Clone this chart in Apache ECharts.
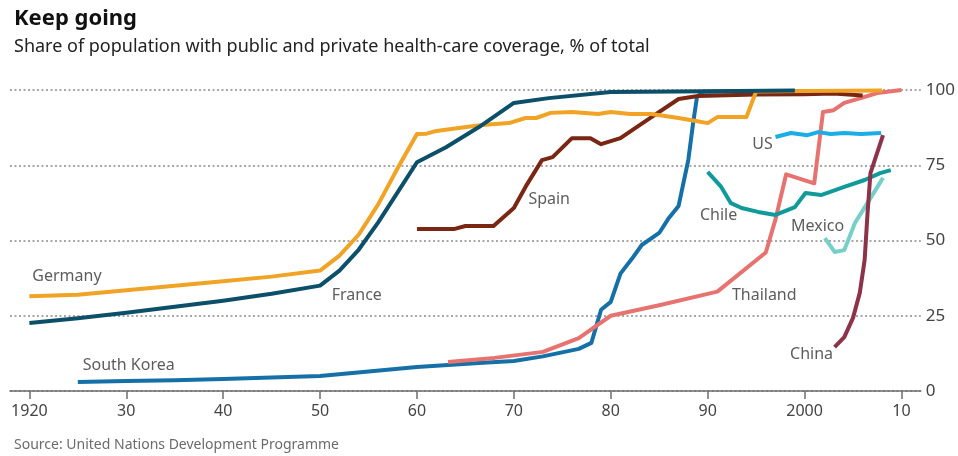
<!DOCTYPE html>
<html>
<head>
<meta charset="utf-8">
<script src="https://cdn.jsdelivr.net/npm/echarts@6/dist/echarts.min.js"></script>
<style>
html,body{margin:0;padding:0;background:#fff;}
#chart{width:958px;height:456px;}
</style>
</head>
<body>
<div id="chart"></div>
<script>
// Tick labels
var tickYears = [1920,1930,1940,1950,1960,1970,1980,1990,2000,2010];
var tickLabels = ['1920','30','40','50','60','70','80','90','2000','10'];
var yTicks = [0,25,50,75,100];

// Series values: [year, % of population covered]
var germany = [[1920,31.5],[1925,32],[1930,33.5],[1935,35],[1940,36.5],[1945,38],[1950,40],[1952,45],[1954,52],[1956,62],[1958,74],[1960,85.4],[1961,85.5],[1962,86.4],[1964.3,87.4],[1966.7,88.4],[1969.5,89],[1971.2,90.7],[1972.3,90.7],[1973.8,92.4],[1976,92.7],[1978.7,92],[1980,92.7],[1982,92],[1984.2,92],[1987,90.7],[1988.8,89.7],[1990,89],[1991,91],[1992.4,91],[1994,91],[1995,99.5],[2000,99.7],[2008,99.8]];
var france = [[1920,22.6],[1925,24.2],[1930,26],[1935,28],[1940,30],[1945,32.3],[1950,35],[1952,40],[1954,47],[1956,56],[1958,66],[1960,76],[1963,81],[1966.4,87.7],[1970,95.7],[1973.6,97.3],[1980,99.3],[1990,99.6],[1999,99.8]];
var spain = [[1960,53.8],[1963.8,53.8],[1965,54.8],[1967.9,54.8],[1970,60.8],[1971.2,67.8],[1972.9,76.7],[1974,77.7],[1976,84],[1977.9,84],[1979,82],[1981,84],[1984.2,91],[1987,97],[1989,98],[1995,98.5],[2000,98.6],[2003,98.8],[2006,98.2]];
var southKorea = [[1925,3],[1930,3.3],[1935,3.6],[1940,4],[1945,4.5],[1950,5],[1955,6.5],[1960,8],[1966.4,9.3],[1970,10],[1973,11.5],[1976.7,14],[1978,16],[1979,27],[1980,29.6],[1981,39],[1982.2,44],[1983.2,48.5],[1985,52.5],[1986,57.5],[1987,61.5],[1988,76.7],[1988.5,89],[1988.9,97.7],[1989.5,99.4],[2000,99.7]];
var thailand = [[1963.2,9.6],[1968,11],[1973,13],[1976.7,17.6],[1980,25],[1985,28.5],[1991,33],[1996,46],[1997,57],[1998.1,72],[2001,69],[2001.9,92.7],[2003,93.3],[2004.1,95.7],[2005.8,97.3],[2007.5,99],[2010,100]];
var chile = [[1990,72.8],[1991.4,67.8],[1992.4,62.4],[1993.5,60.8],[1995.2,59.5],[1997,58.5],[1999,61.1],[2000.1,65.8],[2001.7,65.1],[2004.1,67.8],[2006.2,70.1],[2007.8,72.4],[2008.9,73.4]];
var us = [[1997,84.4],[1998.6,85.7],[2000.3,85],[2001.4,86],[2002.7,85.4],[2004.1,85.7],[2005.8,85.4],[2007.9,85.7]];
var mexico = [[2002.1,50.8],[2003.1,46.2],[2004.1,46.8],[2005.2,55.8],[2006.5,62.5],[2008.1,70.8]];
var china = [[2003.1,14.6],[2004.1,17.9],[2005,24.3],[2005.7,32.6],[2006.2,43.5],[2006.5,59],[2006.8,72.4],[2008.1,85]];

// Country name annotations (anchor in data space: [year, %, name])
var labelAnchors = [[1920.3,38.2,'Germany'],[1951.2,31.9,'France'],[1925.5,8.6,'South Korea'],[1971.5,63.8,'Spain'],[1994.6,82,'US'],[1989.2,58.3,'Chile'],[1998.6,54.7,'Mexico'],[1992.5,31.6,'Thailand'],[1998.5,12.3,'China']];

var FONT = '"Noto Sans", "Open Sans", sans-serif';

function lineSeries(name, data, color, z) {
  return {
    name: name, type: 'line', data: data, showSymbol: false, symbol: 'none',
    z: z, silent: true, animation: false,
    lineStyle: { color: color, width: 4, cap: 'butt', join: 'round' }
  };
}

var chart = echarts.init(document.getElementById('chart'), null, {renderer: 'canvas'});
chart.setOption({
  animation: false,
  backgroundColor: '#ffffff',
  title: [
    { text: 'Keep going', left: 9, top: 3, textStyle: { fontFamily: FONT, fontSize: 22, fontWeight: 'bold', color: '#111' } },
    { text: 'Share of population with public and private health-care coverage, % of total', left: 9, top: 33, textStyle: { fontFamily: FONT, fontSize: 18, fontWeight: 'normal', color: '#222' } },
    { text: 'Source: United Nations Development Programme', left: 9, top: 433, textStyle: { fontFamily: FONT, fontSize: 14, fontWeight: 'normal', color: '#6b6b6b' } }
  ],
  grid: { left: 10, right: 35, top: 90, bottom: 65, containLabel: false },
  xAxis: {
    type: 'value', min: 1918, max: 2012,
    axisLine: { show: true, onZero: false, lineStyle: { color: '#6e6e6e', width: 1.5 } },
    axisTick: { show: true, customValues: tickYears, length: 8, inside: false, lineStyle: { color: '#6e6e6e', width: 1.5 } },
    axisLabel: {
      customValues: tickYears, margin: 12,
      fontFamily: FONT, fontSize: 16, color: '#444',
      formatter: function (v) { var i = tickYears.indexOf(Math.round(v)); return i >= 0 ? tickLabels[i] : ''; }
    },
    splitLine: { show: false }
  },
  yAxis: {
    type: 'value', position: 'right', min: 0, max: 100, interval: 25,
    axisLine: { show: false }, axisTick: { show: false },
    axisLabel: { margin: 5, fontFamily: FONT, fontSize: 17, color: '#444' },
    splitLine: { show: true, lineStyle: { type: [2, 2.5], color: '#8a8a8a', width: 1.5 } }
  },
  series: [
    lineSeries('South Korea', southKorea, '#1670a8', 3),
    lineSeries('Thailand', thailand, '#e6736f', 4),
    lineSeries('Spain', spain, '#7a2614', 5),
    lineSeries('Germany', germany, '#f0a325', 6),
    lineSeries('France', france, '#0c4f68', 7),
    lineSeries('Chile', chile, '#119a9a', 8),
    lineSeries('US', us, '#1aaee5', 8),
    lineSeries('Mexico', mexico, '#76cfc9', 8),
    lineSeries('China', china, '#8d3349', 9),
    {
      name: 'labels', type: 'scatter', symbolSize: 0, silent: true, z: 10,
      data: labelAnchors.map(function (d) { return { value: [d[0], d[1]], name: d[2] }; }),
      label: {
        show: true, position: 'right', distance: 0,
        formatter: function (p) { return p.name; },
        fontFamily: FONT, fontSize: 16, color: '#333'
      }
    }
  ]
});
</script>
</body>
</html>
